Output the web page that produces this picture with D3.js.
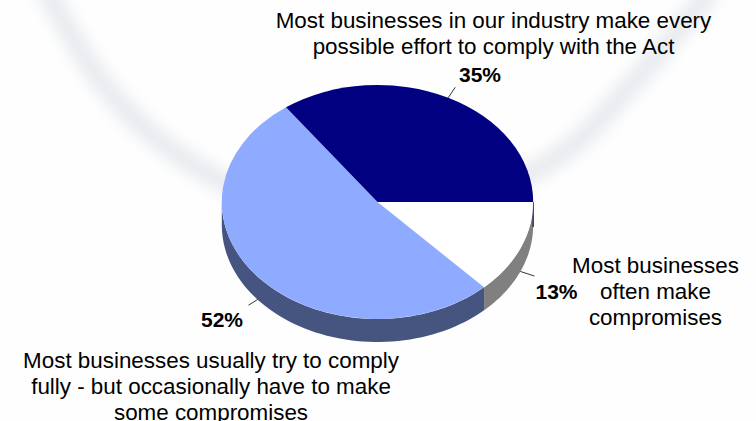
<!DOCTYPE html>
<html>
<head>
<meta charset="utf-8">
<script src="https://d3js.org/d3.v7.min.js"></script>
<style>
  html, body { margin: 0; padding: 0; background: #fff; }
  svg { display: block; }
  text { font-family: "Liberation Sans", Arial, sans-serif; fill: #000; }
</style>
</head>
<body>
<svg id="chart" width="756" height="421"></svg>
<script>
// Share of responses, clockwise from the three o'clock position
const responses = [
  "Most businesses often make compromises",
  "Most businesses usually try to comply fully - but occasionally have to make some compromises",
  "Most businesses in our industry make every possible effort to comply with the Act"
];
const shares = [13, 52, 35];
const topColors = ["#ffffff", "#8fabff", "#000080"];
const wallColors = ["#808080", "#46557f", "#000080"];
const valueLabels = ["13%", "52%", "35%"];
const labelLines = [
  ["Most businesses", "often make", "compromises"],
  ["Most businesses usually try to comply", "fully - but occasionally have to make", "some compromises"],
  ["Most businesses in our industry make every", "possible effort to comply with the Act"]
];
const labelAnchors = [[655.5, 272.5], [211, 367.5], [493.5, 28]];
const valueAnchors = [[556.5, 299], [222, 327], [480, 82]];
const swirlX = [40, 57, 100, 150, 207, 300, 377, 470, 567, 633, 712];
const swirlY = [-20, 10, 80, 133, 173, 215, 225, 200, 150, 83, -10];

const cx = 377.5, cy = 202, rx = 155.7, ry = 117, depth = 23;
const svg = d3.select("#chart");

// Soft ribbon behind the pie
const defs = svg.append("defs");
defs.append("filter").attr("id", "soft")
  .attr("x", "-10%").attr("y", "-10%").attr("width", "120%").attr("height", "120%")
  .append("feGaussianBlur").attr("stdDeviation", 7);
svg.append("rect").attr("width", 756).attr("height", 421).attr("fill", "#fefefe");
svg.append("path")
  .attr("d", d3.line().curve(d3.curveCatmullRom)(swirlX.map((x, i) => [x, swirlY[i]])))
  .attr("fill", "none").attr("stroke", "#e9ecf0").attr("stroke-width", 22)
  .attr("filter", "url(#soft)");

const slices = d3.pie().sort(null).startAngle(Math.PI / 2).endAngle(Math.PI * 2.5)(shares);
const rimX = a => cx + rx * Math.sin(a);
const rimY = a => cy - ry * Math.cos(a);

// Side wall: only the part of each slice that faces the viewer
const wallPath = (a0, a1) => {
  const steps = d3.range(0, 61).map(i => a0 + (a1 - a0) * i / 60);
  const upper = steps.map(a => [rimX(a), rimY(a)]);
  const lower = steps.slice().reverse().map(a => [rimX(a), rimY(a) + depth]);
  return d3.line()(upper.concat(lower)) + "Z";
};
svg.append("g").selectAll("path")
  .data(slices.filter(d => d.startAngle < Math.PI * 1.5))
  .join("path")
  .attr("d", d => wallPath(d.startAngle, Math.min(d.endAngle, Math.PI * 1.5)))
  .attr("fill", d => wallColors[d.index]);

// Thin dark edge where the top slice wraps round the rim
svg.append("line")
  .attr("x1", rimX(Math.PI / 2)).attr("y1", rimY(Math.PI / 2))
  .attr("x2", rimX(Math.PI / 2)).attr("y2", rimY(Math.PI / 2) + depth + 2)
  .attr("stroke", "#23235f").attr("stroke-width", 1.3);

// Pie top, flattened into an ellipse
const arc = d3.arc().innerRadius(0).outerRadius(rx);
svg.append("g")
  .attr("transform", `translate(${cx},${cy}) scale(1,${ry / rx})`)
  .selectAll("path").data(slices).join("path")
  .attr("d", arc)
  .attr("fill", d => topColors[d.index]);

// Leaders from each slice's mid-angle out to its value label
const leaderGap = [1.098, 1.075, 1.1];
svg.append("g").selectAll("line").data(slices).join("line")
  .each(function (d) {
    const mid = (d.startAngle + d.endAngle) / 2;
    const drop = Math.cos(mid) < 0 ? depth : 0;
    const f = leaderGap[d.index];
    d3.select(this)
      .attr("x1", rimX(mid)).attr("y1", rimY(mid) + drop)
      .attr("x2", cx + rx * f * Math.sin(mid))
      .attr("y2", cy - ry * f * Math.cos(mid) + drop);
  })
  .attr("stroke", "#000").attr("stroke-width", 0.8);

// Category labels
labelLines.forEach((lines, i) => {
  const t = svg.append("text").attr("text-anchor", "middle").attr("font-size", 22.4);
  lines.forEach((line, j) => {
    t.append("tspan").attr("x", labelAnchors[i][0])
      .attr("y", labelAnchors[i][1] + j * 26).text(line);
  });
});

// Value labels
svg.append("g").selectAll("text").data(valueLabels).join("text")
  .attr("x", (d, i) => valueAnchors[i][0]).attr("y", (d, i) => valueAnchors[i][1])
  .attr("text-anchor", "middle").attr("font-size", 21).attr("font-weight", "bold")
  .text(d => d);
</script>
</body>
</html>
